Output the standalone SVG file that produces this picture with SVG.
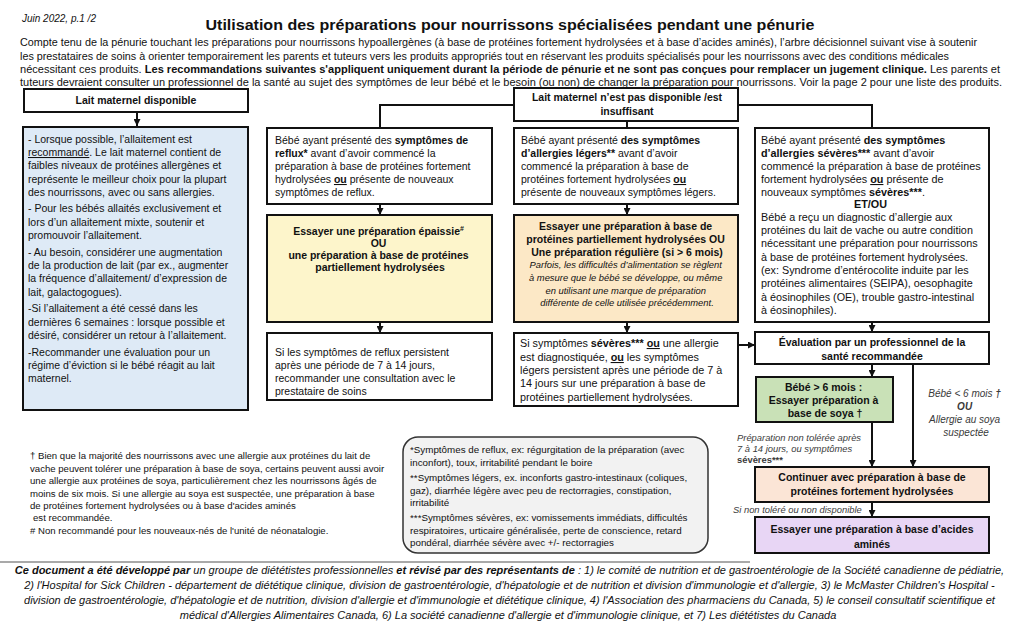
<svg xmlns="http://www.w3.org/2000/svg" width="1024" height="626" viewBox="0 0 1024 626">
<defs>
<style>
text{font-family:"Liberation Sans",Arial,sans-serif;fill:#111}
.p{font-size:10.3px}
.s{font-size:10.5px}
.m{font-size:10.8px}
.f{font-size:9.6px}
.lg{font-size:9.8px}
.b{font-weight:bold}
.i{font-style:italic}
.g{fill:#3a3a3a}
.c{text-anchor:middle}
.u{text-decoration:underline}
.box{stroke:#111;stroke-width:2}
.ln{stroke:#111;stroke-width:2;fill:none}
</style>
<marker id="ah" viewBox="0 0 10 10" refX="10" refY="5" markerWidth="7" markerHeight="7" markerUnits="userSpaceOnUse" orient="auto"><path d="M0,0 L10,5 L0,10 z" fill="#111"/></marker>
</defs>
<rect width="1024" height="626" fill="#fff"/>

<g id="header">
<text x="22" y="22" class="i" font-size="10px">Juin 2022, p.1 /2</text>
<text x="510" y="30" class="b c" font-size="14.5px" textLength="609" lengthAdjust="spacingAndGlyphs">Utilisation des préparations pour nourrissons spécialisées pendant une pénurie</text>
<text x="20" y="46" class="p" textLength="957" lengthAdjust="spacingAndGlyphs">Compte tenu de la pénurie touchant les préparations pour nourrissons hypoallergènes (à base de protéines fortement hydrolysées et à base d’acides aminés), l’arbre décisionnel suivant vise à soutenir</text>
<text x="20" y="59.5" class="p" textLength="929" lengthAdjust="spacingAndGlyphs">les prestataires de soins à orienter temporairement les parents et tuteurs vers les produits appropriés tout en réservant les produits spécialisés pour les nourrissons avec des conditions médicales</text>
<text x="20" y="73" class="p" textLength="980" lengthAdjust="spacingAndGlyphs">nécessitant ces produits. <tspan class="b">Les recommandations suivantes s'appliquent uniquement durant la période de pénurie et ne sont pas conçues pour remplacer un jugement clinique.</tspan> Les parents et</text>
<text x="20" y="86" class="p" textLength="982" lengthAdjust="spacingAndGlyphs">tuteurs devraient consulter un professionnel de la santé au sujet des symptômes de leur bébé et le besoin (ou non) de changer la préparation pour nourrissons. Voir la page 2 pour une liste des produits.</text>
</g>

<g id="connectors">
<line class="ln" x1="137" y1="112" x2="137" y2="126" marker-end="url(#ah)"/>
<polyline class="ln" points="514,105 380,105 380,128"/>
<polyline class="ln" points="738,105 872,105 872,128"/>
<line class="ln" x1="627" y1="121" x2="627" y2="128"/>
<line class="ln" x1="380" y1="204" x2="380" y2="215" marker-end="url(#ah)"/>
<line class="ln" x1="380" y1="322" x2="380" y2="333" marker-end="url(#ah)"/>
<line class="ln" x1="627" y1="204" x2="627" y2="215" marker-end="url(#ah)"/>
<line class="ln" x1="627" y1="322" x2="627" y2="333" marker-end="url(#ah)"/>
<line class="ln" x1="738" y1="345" x2="755" y2="345" marker-end="url(#ah)"/>
<line class="ln" x1="872" y1="322" x2="872" y2="332" marker-end="url(#ah)"/>
<line class="ln" x1="872" y1="364" x2="872" y2="377" marker-end="url(#ah)"/>
<line class="ln" x1="872" y1="422" x2="872" y2="467" marker-end="url(#ah)"/>
<line class="ln" x1="913" y1="364" x2="913" y2="467" marker-end="url(#ah)"/>
<line class="ln" x1="872" y1="502" x2="872" y2="517" marker-end="url(#ah)"/>
</g>

<g id="lait-disponible">
<rect class="box" x="24" y="89" width="224" height="23" fill="#fff"/>
<text x="136" y="104" class="s b c">Lait maternel disponible</text>
</g>

<g id="allaitement">
<rect class="box" x="23" y="127" width="225" height="283" fill="#deeaf6"/>
<text class="s" x="28">
<tspan x="28" y="143">- Lorsque possible, l’allaitement est</tspan>
<tspan x="28" y="156"><tspan class="u">recommandé</tspan>. Le lait maternel contient de</tspan>
<tspan x="28" y="169">faibles niveaux de protéines allergènes et</tspan>
<tspan x="28" y="183">représente le meilleur choix pour la plupart</tspan>
<tspan x="28" y="196">des nourrissons, avec ou sans allergies.</tspan>
<tspan x="28" y="212">- Pour les bébés allaités exclusivement et</tspan>
<tspan x="28" y="226">lors d’un allaitement mixte, soutenir et</tspan>
<tspan x="28" y="239">promouvoir l’allaitement.</tspan>
<tspan x="28" y="256">- Au besoin, considérer une augmentation</tspan>
<tspan x="28" y="269">de la production de lait (par ex., augmenter</tspan>
<tspan x="28" y="282">la fréquence d’allaitement/ d’expression de</tspan>
<tspan x="28" y="296">lait, galactogogues).</tspan>
<tspan x="28" y="312">-Si l’allaitement a été cessé dans les</tspan>
<tspan x="28" y="326">dernières 6 semaines : lorsque possible et</tspan>
<tspan x="28" y="339">désiré, considérer un retour à l’allaitement.</tspan>
<tspan x="28" y="356">-Recommander une évaluation pour un</tspan>
<tspan x="28" y="369">régime d’éviction si le bébé réagit au lait</tspan>
<tspan x="28" y="382">maternel.</tspan>
</text>
</g>

<g id="non-disponible">
<rect class="box" x="514" y="88" width="224" height="33" fill="#fff"/>
<text x="627" y="101" class="s b c">Lait maternel n’est pas disponible /est</text>
<text x="627" y="115" class="s b c">insuffisant</text>
</g>

<g id="reflux">
<rect class="box" x="267" y="128" width="225" height="76" fill="#fff"/>
<text class="s">
<tspan x="275" y="144">Bébé ayant présenté des <tspan class="b">symptômes de</tspan></tspan>
<tspan x="275" y="157"><tspan class="b">reflux*</tspan> avant d’avoir commencé la</tspan>
<tspan x="275" y="170">préparation à base de protéines fortement</tspan>
<tspan x="275" y="183">hydrolysées <tspan class="b u">ou</tspan> présente de nouveaux</tspan>
<tspan x="275" y="196">symptômes de reflux.</tspan>
</text>
</g>

<g id="epaissie">
<rect class="box" x="267" y="215" width="225" height="107" fill="#fdf5cb"/>
<text class="s b c">
<tspan x="380" y="235">Essayer une préparation épaissie<tspan font-size="7px" dy="-4">#</tspan></tspan>
<tspan x="380" y="247">OU</tspan>
<tspan x="380" y="259">une préparation à base de protéines</tspan>
<tspan x="380" y="271">partiellement hydrolysées</tspan>
</text>
</g>

<g id="reflux-persistent">
<rect class="box" x="267" y="333" width="225" height="67" fill="#fff"/>
<text class="s">
<tspan x="275" y="356">Si les symptômes de reflux persistent</tspan>
<tspan x="275" y="369">après une période de 7 à 14 jours,</tspan>
<tspan x="275" y="382">recommander une consultation avec le</tspan>
<tspan x="275" y="395">prestataire de soins</tspan>
</text>
</g>

<g id="legers">
<rect class="box" x="514" y="128" width="224" height="76" fill="#fff"/>
<text class="s">
<tspan x="521" y="144">Bébé ayant présenté <tspan class="b">des symptômes</tspan></tspan>
<tspan x="521" y="157"><tspan class="b">d’allergies légers**</tspan> avant d’avoir</tspan>
<tspan x="521" y="170">commencé la préparation à base de</tspan>
<tspan x="521" y="183">protéines fortement hydrolysées <tspan class="b u">ou</tspan></tspan>
<tspan x="521" y="196">présente de nouveaux symptômes légers.</tspan>
</text>
</g>

<g id="partiel">
<rect class="box" x="514" y="215" width="224" height="107" fill="#fce8c6"/>
<text class="s b c">
<tspan x="627" y="230">Essayer une préparation à base de</tspan>
<tspan x="627" y="243">protéines partiellement hydrolysées OU</tspan>
<tspan x="627" y="256">Une préparation régulière (si &gt; 6 mois)</tspan>
</text>
<text class="i c" font-size="9.4px">
<tspan x="627" y="268">Parfois, les difficultés d’alimentation se règlent</tspan>
<tspan x="627" y="281">à mesure que le bébé se développe, ou même</tspan>
<tspan x="627" y="294">en utilisant une marque de préparation</tspan>
<tspan x="627" y="306">différente de celle utilisée précédemment.</tspan>
</text>
</g>

<g id="severes-diag">
<rect class="box" x="514" y="333" width="224" height="73" fill="#fff"/>
<text class="m">
<tspan x="520" y="347">Si symptômes <tspan class="b">sévères***</tspan> <tspan class="b u">ou</tspan> une allergie</tspan>
<tspan x="520" y="361">est diagnostiquée, <tspan class="b u">ou</tspan> les symptômes</tspan>
<tspan x="520" y="374">légers persistent après une période de 7 à</tspan>
<tspan x="520" y="387">14 jours sur une préparation à base de</tspan>
<tspan x="520" y="401">protéines partiellement hydrolysées.</tspan>
</text>
</g>

<g id="severes">
<rect class="box" x="755" y="128" width="234" height="194" fill="#fff"/>
<text class="m">
<tspan x="761" y="144">Bébé ayant présenté <tspan class="b">des symptômes</tspan></tspan>
<tspan x="761" y="157"><tspan class="b">d’allergies sévères***</tspan> avant d’avoir</tspan>
<tspan x="761" y="170">commencé la préparation à base de protéines</tspan>
<tspan x="761" y="183">fortement hydrolysées <tspan class="b u">ou</tspan> présente de</tspan>
<tspan x="761" y="196">nouveaux symptômes <tspan class="b">sévères***</tspan>.</tspan>
<tspan x="872" y="208" class="b c">ET/OU</tspan>
<tspan x="761" y="221">Bébé a reçu un diagnostic d’allergie aux</tspan>
<tspan x="761" y="234">protéines du lait de vache ou autre condition</tspan>
<tspan x="761" y="247">nécessitant une préparation pour nourrissons</tspan>
<tspan x="761" y="261">à base de protéines fortement hydrolysées.</tspan>
<tspan x="761" y="274"> (ex: Syndrome d’entérocolite induite par les</tspan>
<tspan x="761" y="287">protéines alimentaires (SEIPA), oesophagite</tspan>
<tspan x="761" y="301">à éosinophiles (OE), trouble gastro-intestinal</tspan>
<tspan x="761" y="314">à éosinophiles).</tspan>
</text>
</g>

<g id="evaluation">
<rect class="box" x="755" y="332" width="234" height="32" fill="#fff"/>
<text x="872" y="346" class="s b c">Évaluation par un professionnel de la</text>
<text x="872" y="360" class="s b c">santé recommandée</text>
</g>

<g id="soya">
<rect class="box" x="756" y="377" width="137" height="45" fill="#c9e1b7"/>
<text class="s b c">
<tspan x="825" y="391">Bébé &gt; 6 mois :</tspan>
<tspan x="825" y="404">Essayer préparation à</tspan>
<tspan x="825" y="417">base de soya †</tspan>
</text>
</g>

<g id="labels">
<text class="i g c" font-size="10px">
<tspan x="966" y="397">Bébé &lt; 6 mois <tspan class="b">†</tspan></tspan>
<tspan x="966" y="410" class="b">OU</tspan>
<tspan x="966" y="423">Allergie au soya</tspan>
<tspan x="966" y="436">suspectée</tspan>
</text>
<text class="i g" font-size="9.4px">
<tspan x="737" y="441">Préparation non tolérée après</tspan>
<tspan x="737" y="452">7 à 14 jours, ou symptômes</tspan>
<tspan x="737" y="463" class="b" style="font-style:normal">sévères***</tspan>
</text>
<text x="733" y="513" class="i g" font-size="9.4px">Si non toléré ou non disponible</text>
</g>

<g id="fortement">
<rect class="box" x="755" y="467" width="234" height="35" fill="#fbe5d6"/>
<text x="872" y="481" class="s b c">Continuer avec préparation à base de</text>
<text x="872" y="495" class="s b c">protéines fortement hydrolysées</text>
</g>

<g id="acides">
<rect class="box" x="755" y="517" width="234" height="36" fill="#e8d6f5"/>
<text x="872" y="533" class="s b c">Essayer une préparation à base d’acides</text>
<text x="872" y="548" class="s b c">aminés</text>
</g>

<g id="footnotes">
<text class="f">
<tspan x="30" y="459">† Bien que la majorité des nourrissons avec une allergie aux protéines du lait de</tspan>
<tspan x="30" y="471.5">vache peuvent tolérer une préparation à base de soya, certains peuvent aussi avoir</tspan>
<tspan x="30" y="484">une allergie aux protéines de soya, particulièrement chez les nourrissons âgés de</tspan>
<tspan x="30" y="496.5">moins de six mois. Si une allergie au soya est suspectée, une préparation à base</tspan>
<tspan x="30" y="509">de protéines fortement hydrolysées ou à base d'acides aminés</tspan>
<tspan x="33" y="521">est recommandée.</tspan>
<tspan x="30" y="533.5"># Non recommandé pour les nouveaux-nés de l'unité de néonatalogie.</tspan>
</text>
</g>

<g id="legende">
<rect x="403" y="437" width="305" height="116" rx="15" fill="#f2f2f2" stroke="#333" stroke-width="1.5"/>
<text class="lg">
<tspan x="410" y="453">*Symptômes de reflux, ex: régurgitation de la préparation (avec</tspan>
<tspan x="410" y="465.5">inconfort), toux, irritabilité pendant le boire</tspan>
<tspan x="410" y="481">**Symptômes légers, ex. inconforts gastro-intestinaux (coliques,</tspan>
<tspan x="410" y="493.5">gaz), diarrhée légère avec peu de rectorragies, constipation,</tspan>
<tspan x="410" y="506">irritabilité</tspan>
<tspan x="410" y="521">***Symptômes sévères, ex: vomissements immédiats, difficultés</tspan>
<tspan x="410" y="533.5">respiratoires, urticaire généralisée, perte de conscience, retard</tspan>
<tspan x="410" y="546">pondéral, diarrhée sévère avec +/- rectorragies</tspan>
</text>
</g>

<g id="footer">
<line x1="0" y1="562" x2="750" y2="562" stroke="#555" stroke-width="1.2"/>
<text class="i c" font-size="11px">
<tspan x="511" y="574"><tspan class="b">Ce document a été développé par</tspan> un groupe de diététistes professionnelles <tspan class="b">et révisé par des représentants de</tspan> : 1) le comité de nutrition et de gastroentérologie de la Société canadienne de pédiatrie,</tspan>
<tspan x="511" y="589">2) l'Hospital for Sick Children - département de diététique clinique, division de gastroentérologie, d'hépatologie et de nutrition et division d'immunologie et d'allergie, 3) le McMaster Children's Hospital -</tspan>
<tspan x="511" y="604">division de gastroentérologie, d'hépatologie et de nutrition, division d'allergie et d'immunologie et diététique clinique, 4) l'Association des pharmaciens du Canada, 5) le conseil consultatif scientifique et</tspan>
<tspan x="508" y="619">médical d'Allergies Alimentaires Canada, 6) La société canadienne d'allergie et d'immunologie clinique, et 7) Les diététistes du Canada</tspan>
</text>
</g>
</svg>
